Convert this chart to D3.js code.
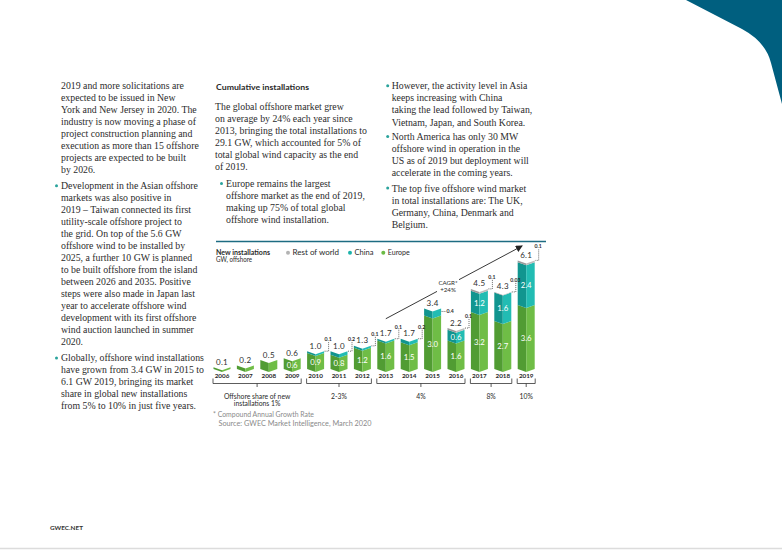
<!DOCTYPE html>
<html><head><meta charset="utf-8">
<script src="https://cdn.jsdelivr.net/npm/d3@7/dist/d3.min.js"></script>
<style>body{margin:0;background:#fff}svg{display:block}</style>
</head><body>
<script>
// ---------- DATA ----------
const years = ["2006","2007","2008","2009","2010","2011","2012","2013","2014","2015","2016","2017","2018","2019"];
const europe = [0.1,0.2,0.5,0.6,0.9,0.8,1.2,1.6,1.5,3.0,1.6,3.2,2.7,3.6];
const china = [0,0,0,0,0.1,0.2,0.1,0.1,0.2,0.4,0.6,1.2,1.6,2.4];
const restOfWorld = [0,0,0,0,0,0,0,0,0,0,0.1,0.1,0.03,0.1];
const totalLabels = ["0.1","0.2","0.5","0.6","1.0","1.0","1.3","1.7","1.7","3.4","2.2","4.5","4.3","6.1"];
const seriesNames = ["Rest of world","China","Europe"];
const shareGroupFirst = ["2006","2010","2013","2017","2019"];
const shareGroupLast = ["2009","2012","2016","2018","2019"];
const shareLabels = [["Offshore share of new","installations 1%"],["2-3%"],["4%"],["8%"],["10%"]];
const cagrLabel = ["CAGR*","+24%"];
const chartTitle = ["New installations","GW, offshore"];
const footnotes = ["* Compound Annual Growth Rate","Source: GWEC Market Intelligence, March 2020"];

const leftColumn = [
  {bullet:false, lines:["2019 and more solicitations are","expected to be issued in New","York and New Jersey in 2020. The","industry is now moving a phase of","project construction planning and","execution as more than 15 offshore","projects are expected to be built","by 2026."]},
  {bullet:true, lines:["Development in the Asian offshore","markets was also positive in","2019 \u2013 Taiwan connected its first","utility-scale offshore project to","the grid. On top of the 5.6 GW","offshore wind to be installed by","2025, a further 10 GW is planned","to be built offshore from the island","between 2026 and 2035. Positive","steps were also made in Japan last","year to accelerate offshore wind","development with its first offshore","wind auction launched in summer","2020."]},
  {bullet:true, lines:["Globally, offshore wind installations","have grown from 3.4 GW in 2015 to","6.1 GW 2019, bringing its market","share in global new installations","from 5% to 10% in just five years."]}
];
const middleTitle = "Cumulative installations";
const middleColumn = [
  {bullet:false, lines:["The global offshore market grew","on average by 24% each year since","2013, bringing the total installations to","29.1 GW, which accounted for 5% of","total global wind capacity as the end","of 2019."]},
  {bullet:true, lines:["Europe remains the largest","offshore market as the end of 2019,","making up 75% of total global","offshore wind installation."]}
];
const rightColumn = [
  {bullet:true, lines:["However, the activity level in Asia","keeps increasing with China","taking the lead followed by Taiwan,","Vietnam, Japan, and South Korea."]},
  {bullet:true, lines:["North America has only 30 MW","offshore wind in operation in the","US as of 2019 but deployment will","accelerate in the coming years."]},
  {bullet:true, lines:["The top five offshore wind market","in total installations are: The UK,","Germany, China, Denmark and","Belgium."]}
];
const footerText = "GWEC.NET";

// ---------- PAGE ----------
const W = 782, H = 550;
const svg = d3.select("body").append("svg").attr("width", W).attr("height", H);
svg.append("rect").attr("width", W).attr("height", H).attr("fill", "#fff");

svg.append("path").attr("d","M686,0 L742,29 Q766,42 771,63 L782,104 L782,0 Z").attr("fill","#005f7f");
svg.append("line").attr("x1",0).attr("x2",W).attr("y1",548.5).attr("y2",548.5).attr("stroke","#dcdcdc").attr("stroke-width",1.5);

const bodyFont = "'Liberation Serif', 'Times New Roman', serif";
const sansFont = "Lato, 'Noto Sans', sans-serif";
const textColor = "#2c2c2c";
const bulletColor = "#2aa39c";

function drawColumn(paras, textX, bulletTextX, bulletX, y0, step, gaps, fs) {
  let y = y0;
  paras.forEach((p, pi) => {
    if (pi > 0) y += gaps[pi-1];
    const tx = p.bullet ? bulletTextX : textX;
    p.lines.forEach((ln, li) => {
      if (li === 0 && p.bullet) {
        svg.append("circle").attr("cx", bulletX).attr("cy", y - 0.3).attr("r", 1.5).attr("fill", bulletColor);
      }
      svg.append("text").attr("x", tx).attr("y", y + 3.2)
        .attr("font-family", bodyFont).attr("font-size", fs).attr("fill", textColor)
        .text(ln);
      if (li < p.lines.length - 1) y += step;
    });
  });
}
drawColumn(leftColumn, 61, 61, 56.5, 85.7, 11.95, [16.6, 16.9], 9.8);
svg.append("text").attr("x",216).attr("y",89.7).attr("font-family",sansFont).attr("font-weight","bold")
  .attr("font-size",8.3).attr("fill","#2a2a2a").attr("textLength",93).attr("lengthAdjust","spacingAndGlyphs").text(middleTitle);
drawColumn(middleColumn, 215, 226, 221.5, 106.7, 12.1, [16.5], 9.8);
drawColumn(rightColumn, 391.7, 391.7, 387.7, 86, 12.1, [14.4, 15.3], 9.8);

svg.append("text").attr("x",50).attr("y",530).attr("font-family",sansFont).attr("font-weight","bold")
  .attr("font-size",6.2).attr("fill","#333").attr("textLength",33).attr("lengthAdjust","spacingAndGlyphs").text(footerText);

// ---------- CHART ----------
const baseY = 372;
const x = d3.scaleBand().domain(years).range([210.3, 210.3 + 14*23.4]).padding(0);
const y = d3.scaleLinear().domain([0, 6.1]).range([baseY, baseY - 6.1*17.8]);
const cx = yr => x(yr) + x.bandwidth()/2;
const barW = 17, dip = 3;

svg.append("line").attr("x1",216).attr("x2",546).attr("y1",241.5).attr("y2",241.5).attr("stroke","#1d6c82").attr("stroke-width",1.3);

svg.append("text").attr("x",216).attr("y",255).attr("font-family",sansFont).attr("font-weight","bold").attr("font-size",6.8)
  .attr("fill","#2a2a2a").attr("textLength",54).attr("lengthAdjust","spacingAndGlyphs").text(chartTitle[0]);
svg.append("text").attr("x",216).attr("y",262.3).attr("font-family",sansFont).attr("font-size",6.8)
  .attr("fill","#2a2a2a").attr("textLength",36).attr("lengthAdjust","spacingAndGlyphs").text(chartTitle[1]);
const legendColors = {"Rest of world":"#b3b3b3","China":"#1db3ab","Europe":"#6cbb45"};
const legendX = [288, 350, 383.3];
const legendW = [46.5, 19, 22];
seriesNames.forEach((s, i) => {
  svg.append("circle").attr("cx", legendX[i]).attr("cy", 252.8).attr("r", 2).attr("fill", legendColors[s]);
  svg.append("text").attr("x", legendX[i] + 4.5).attr("y", 255.3).attr("font-family", sansFont).attr("font-size", 7)
    .attr("fill","#2a2a2a").attr("textLength", legendW[i]).attr("lengthAdjust","spacingAndGlyphs").text(s);
});

const faces = {
  Europe: ["#519c33", "#6fbd46"],
  China: ["#11958f", "#22bcb3"],
  "Rest of world": ["#9a9a9a", "#bdbdbd"]
};
const stackData = years.map((yr, i) => ({year: yr, Europe: europe[i], China: china[i], "Rest of world": restOfWorld[i]}));
const stack = d3.stack().keys(["Europe","China","Rest of world"])(stackData);
const gBars = svg.append("g");
stack.forEach(layer => {
  layer.forEach(d => {
    if (d[1] - d[0] <= 0) return;
    const yr = d.data.year;
    const x0 = cx(yr) - barW/2, xm = cx(yr), x1 = cx(yr) + barW/2;
    const yb = y(d[0]), yt = y(d[1]);
    const left = [[x0, yt - dip],[xm, yt],[xm, yb],[x0, yb - dip]];
    const right = [[xm, yt],[x1, yt - dip],[x1, yb - dip],[xm, yb]];
    gBars.append("polygon").attr("points", left.map(p => p.join(",")).join(" ")).attr("fill", faces[layer.key][0]);
    gBars.append("polygon").attr("points", right.map(p => p.join(",")).join(" ")).attr("fill", faces[layer.key][1]);
  });
});

stack.forEach(layer => {
  if (layer.key === "Rest of world") return;
  layer.forEach(d => {
    const v = d[1] - d[0];
    if (v < 0.6) return;
    const yr = d.data.year;
    svg.append("text").attr("x", cx(yr)).attr("y", (y(d[0]) + y(d[1]))/2 + 1.5)
      .attr("text-anchor","middle").attr("font-family",sansFont).attr("font-size",7.8).attr("fill","#fff")
      .text(v.toFixed(1));
  });
});

years.forEach((yr, i) => {
  const tot = europe[i] + china[i] + restOfWorld[i];
  svg.append("text").attr("x", cx(yr)).attr("y", y(tot) - 5.5)
    .attr("text-anchor","middle").attr("font-family",sansFont).attr("font-size",8).attr("fill","#2e2e2e")
    .attr("letter-spacing",0.3).text(totalLabels[i]);
});

years.forEach((yr, i) => {
  let v = null;
  if (restOfWorld[i] > 0) v = restOfWorld[i];
  else if (china[i] > 0 && china[i] < 0.5) v = china[i];
  if (v === null) return;
  const tot = europe[i] + china[i] + restOfWorld[i];
  const yt = y(tot);
  const xr = cx(yr) + barW/2;
  const dot = sel => sel.attr("stroke","#444").attr("stroke-width",0.8).attr("stroke-dasharray","1,1").attr("fill","none");
  if (i === 9) {
    svg.append("line").attr("x1", xr + 0.5).attr("x2", xr + 5).attr("y1", yt).attr("y2", yt).call(dot);
    svg.append("text").attr("x", xr + 5.5).attr("y", yt + 2).attr("font-family",sansFont).attr("font-weight","bold")
      .attr("font-size",5.2).attr("fill","#2e2e2e").text(String(v));
  } else {
    const lift = (i === 13) ? 17 : 15;
    const lx = xr + (i === 13 ? 4 : 4.5);
    svg.append("path").attr("d", `M${lx},${yt - lift + 3} L${lx},${yt - dip} L${xr + 0.5},${yt - dip}`).call(dot);
    svg.append("text").attr("x", lx - 0.5).attr("y", yt - lift + 1.8).attr("text-anchor","middle")
      .attr("font-family",sansFont).attr("font-weight","bold").attr("font-size",5.2).attr("fill","#2e2e2e")
      .text(String(v));
  }
});

svg.append("g").attr("transform", `translate(0,${baseY})`)
  .call(d3.axisBottom(x).tickSize(0).tickPadding(1.5))
  .call(g => g.select(".domain").remove())
  .call(g => g.selectAll("text").attr("font-family",sansFont).attr("font-weight","bold").attr("font-size",6.3).attr("fill","#2a2a2a"));

const by = 383.5;
shareGroupFirst.forEach((f, i) => {
  const a = cx(f) - 9, b = cx(shareGroupLast[i]) + 9, m = (a + b)/2;
  svg.append("path").attr("d", `M${a},${by-5} L${a},${by} L${b},${by} L${b},${by-5} M${m},${by} L${m},${by+3.5}`)
    .attr("stroke","#333").attr("stroke-width",0.8).attr("fill","none");
  shareLabels[i].forEach((t, j) => {
    svg.append("text").attr("x", m).attr("y", 398.5 + j*7.5).attr("text-anchor","middle")
      .attr("font-family",sansFont).attr("font-size",6.8).attr("fill","#2a2a2a").text(t);
  });
});

const defs = svg.append("defs");
defs.append("marker").attr("id","arr").attr("viewBox","0 0 10 10").attr("refX",9).attr("refY",5)
  .attr("markerWidth",7).attr("markerHeight",7).attr("markerUnits","userSpaceOnUse").attr("orient","auto")
  .append("path").attr("d","M0,0 L10,5 L0,10 Z").attr("fill","#222");
const ax0 = cx("2013"), ay0 = y(1.7) - 23;
const ax1 = cx("2019") - 4, ay1 = y(6.1) - 17.5;
svg.append("line").attr("x1",ax0).attr("y1",ay0).attr("x2",ax1).attr("y2",ay1)
  .attr("stroke","#222").attr("stroke-width",0.9).attr("marker-end","url(#arr)");
svg.append("rect").attr("x",437).attr("y",278).attr("width",22).attr("height",15.5).attr("fill","#fff");
cagrLabel.forEach((t, j) => {
  svg.append("text").attr("x", 448).attr("y", 284.8 + j*7.3).attr("text-anchor","middle")
    .attr("font-family",sansFont).attr("font-size",6.2).attr("fill","#2a2a2a").text(t);
});

svg.append("text").attr("x",213).attr("y",416.5).attr("font-family",sansFont).attr("font-size",6.8).attr("fill","#8a8a8a")
  .attr("textLength",101).attr("lengthAdjust","spacingAndGlyphs").text(footnotes[0]);
svg.append("text").attr("x",218.5).attr("y",425.5).attr("font-family",sansFont).attr("font-size",6.8).attr("fill","#8a8a8a")
  .attr("textLength",153).attr("lengthAdjust","spacingAndGlyphs").text(footnotes[1]);
</script>
</body></html>
